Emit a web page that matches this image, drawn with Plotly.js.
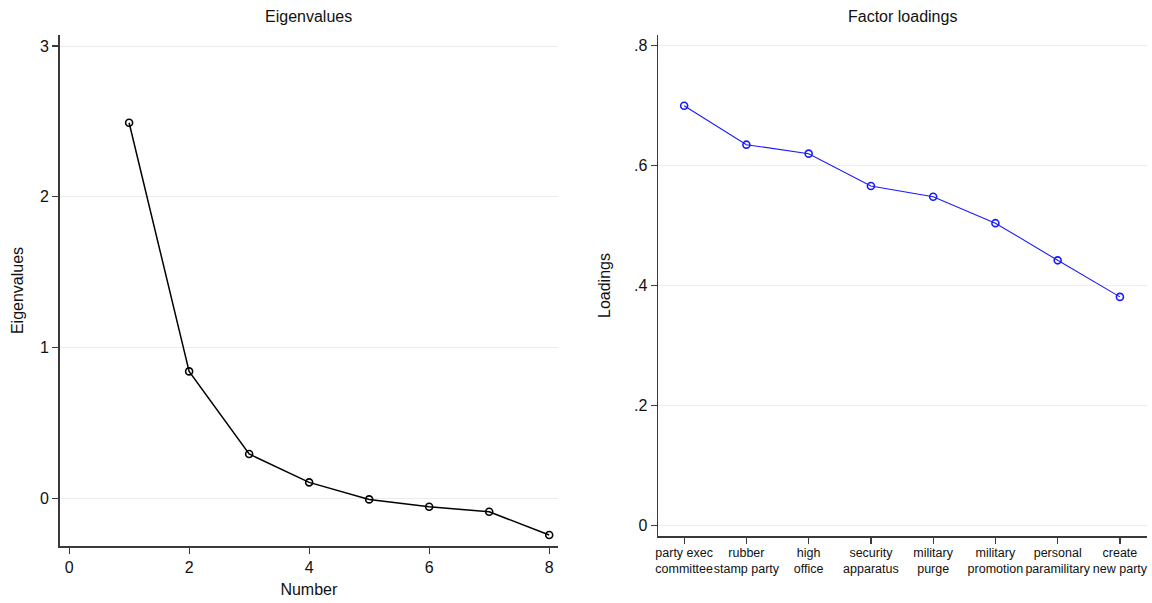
<!DOCTYPE html>
<html>
<head>
<meta charset="utf-8">
<script src="https://cdn.plot.ly/plotly-3.0.1.min.js"></script>
<style>html,body{margin:0;padding:0;background:#fff;}#chart{width:1152px;height:603px;}</style>
</head>
<body>
<div id="chart"></div>
<script>
// ---- data ----
const eigenNumber = [1, 2, 3, 4, 5, 6, 7, 8];
const eigenValues = [2.491, 0.842, 0.294, 0.106, -0.007, -0.056, -0.089, -0.243];

const loadingCategories = [
  "party exec<br>committee", "rubber<br>stamp party", "high<br>office", "security<br>apparatus",
  "military<br>purge", "military<br>promotion", "personal<br>paramilitary", "create<br>new party"
];
const loadingValues = [0.700, 0.635, 0.620, 0.566, 0.548, 0.504, 0.442, 0.381];

const eigenYTicks = [0, 1, 2, 3];
const eigenXTicks = [0, 2, 4, 6, 8];
const loadYTicks = [0, 0.2, 0.4, 0.6, 0.8];
const loadYTickText = ["0", ".2", ".4", ".6", ".8"];

// ---- chart ----
const FONT = "Liberation Sans, Arial, Helvetica, sans-serif";
const axisCol = "#3a3a3a";
const gridCol = "#ececec";

const traces = [
  {
    x: eigenNumber, y: eigenValues, xaxis: "x", yaxis: "y",
    type: "scatter", mode: "lines+markers",
    line: {color: "#000000", width: 1.5},
    marker: {symbol: "circle-open", size: 7, color: "#000000", line: {width: 1.6, color: "#000000"}},
    hoverinfo: "x+y", showlegend: false
  },
  {
    x: loadingCategories, y: loadingValues, xaxis: "x2", yaxis: "y2",
    type: "scatter", mode: "lines+markers",
    line: {color: "#1a1aff", width: 1.1},
    marker: {symbol: "circle-open", size: 7, color: "#1a1aff", line: {width: 1.6, color: "#1a1aff"}},
    hoverinfo: "x+y", showlegend: false
  }
];

const W = 1152, H = 603;
const commonAxis = {
  showline: true, linecolor: axisCol, linewidth: 1.5,
  ticks: "outside", ticklen: 6, tickwidth: 1.2, tickcolor: axisCol,
  zeroline: false, mirror: false
};

const layout = {
  width: W, height: H,
  margin: {l: 0, r: 0, t: 0, b: 0},
  paper_bgcolor: "#ffffff", plot_bgcolor: "#ffffff",
  font: {family: FONT, color: "#111111", size: 16},
  showlegend: false,
  xaxis: Object.assign({}, commonAxis, {
    domain: [59.5 / W, 558.2 / W], anchor: "y",
    range: [-0.16, 8.15], tickvals: eigenXTicks, showgrid: false,
    tickfont: {size: 16, family: FONT, color: "#111"},
    title: {text: "Number", font: {size: 16, family: FONT, color: "#111"}, standoff: 9}
  }),
  yaxis: Object.assign({}, commonAxis, {
    domain: [1 - 546 / H, 1 - 35 / H], anchor: "x",
    range: [-0.316, 3.073], tickvals: eigenYTicks, showgrid: true, gridcolor: gridCol, gridwidth: 1,
    tickfont: {size: 16, family: FONT, color: "#111"},
    title: {text: "Eigenvalues", font: {size: 16, family: FONT, color: "#111"}, standoff: 12}
  }),
  xaxis2: Object.assign({}, commonAxis, {
    domain: [658 / W, 1146.7 / W], anchor: "y2",
    type: "category", range: [-0.42, 7.43], showgrid: false,
    ticklabelstandoff: -2,
    tickfont: {size: 12.5, family: FONT, color: "#111"}, tickangle: 0
  }),
  yaxis2: Object.assign({}, commonAxis, {
    domain: [1 - 536 / H, 1 - 35 / H], anchor: "x2",
    range: [-0.018, 0.818], tickvals: loadYTicks, ticktext: loadYTickText,
    showgrid: true, gridcolor: gridCol, gridwidth: 1,
    tickfont: {size: 16, family: FONT, color: "#111"},
    title: {text: "Loadings", font: {size: 16, family: FONT, color: "#111"}, standoff: 19}
  }),
  annotations: [
    {text: "Eigenvalues", xref: "paper", yref: "paper", x: (59.5 + 558.2) / 2 / W, y: 1 - 17 / H,
     xanchor: "center", yanchor: "middle", showarrow: false, font: {size: 16, family: FONT, color: "#111"}},
    {text: "Factor loadings", xref: "paper", yref: "paper", x: (658 + 1146.7) / 2 / W, y: 1 - 17 / H,
     xanchor: "center", yanchor: "middle", showarrow: false, font: {size: 16, family: FONT, color: "#111"}}
  ]
};

Plotly.newPlot("chart", traces, layout, {displayModeBar: false, staticPlot: true});
</script>
</body>
</html>
